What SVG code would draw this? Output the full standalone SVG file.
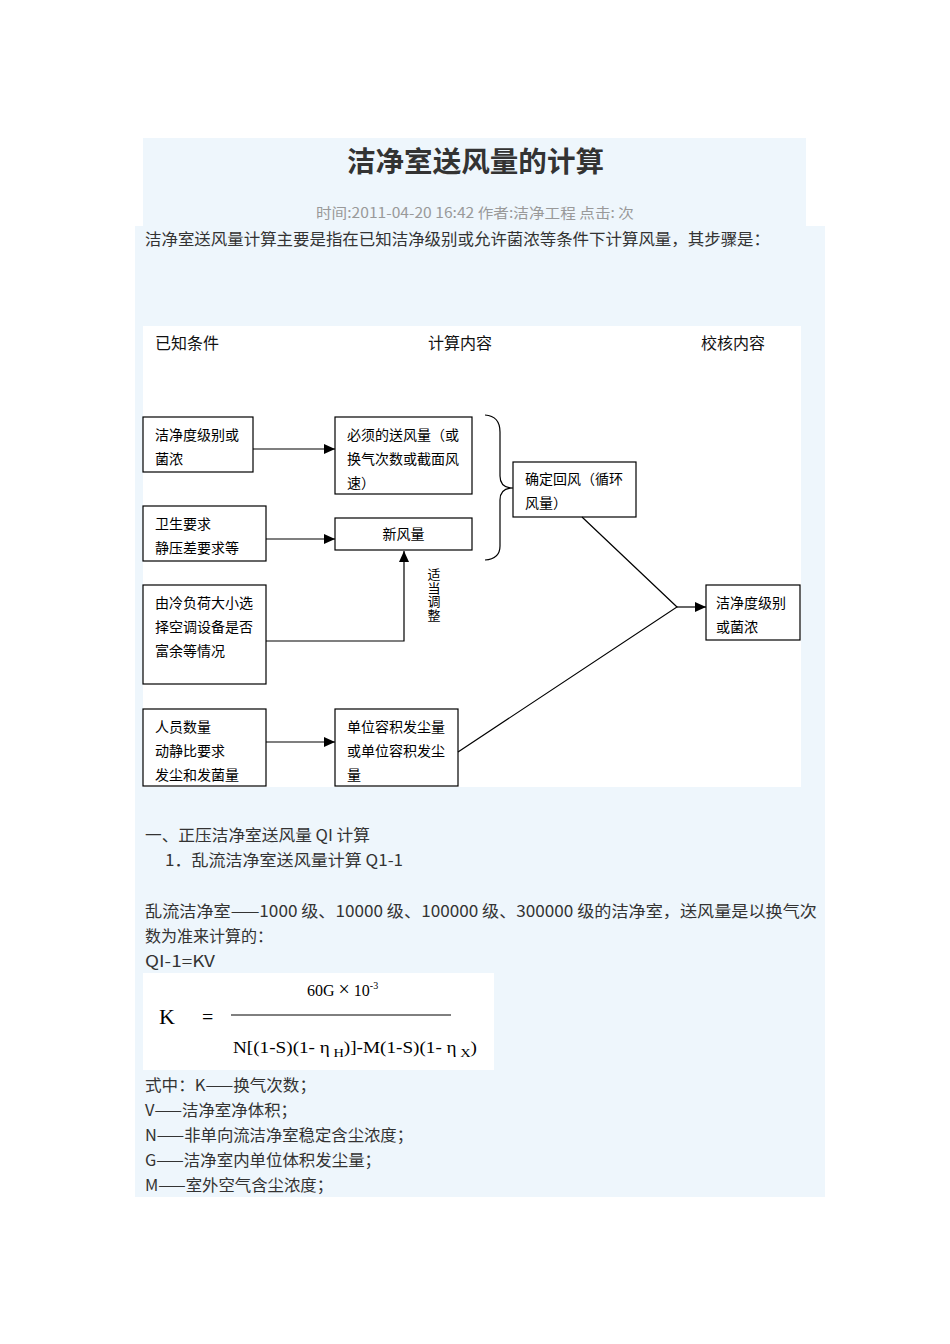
<svg xmlns="http://www.w3.org/2000/svg" width="950" height="1344" viewBox="0 0 950 1344">
<defs>
<style>
.bg{fill:#eef6fc}
.box{fill:#fff;stroke:#000;stroke-width:1.2}
.t{font-family:"Noto Sans CJK SC","Noto Sans",sans-serif;font-size:14px;fill:#000}
.h{font-family:"Noto Sans CJK SC","Noto Sans",sans-serif;font-size:16px;fill:#111}
.p{font-family:"Noto Sans CJK SC","DejaVu Sans",sans-serif;font-size:16px;fill:#333}
.f{font-family:"Liberation Serif","Noto Sans CJK SC",serif;fill:#000}
.ln{stroke:#000;stroke-width:1.2;fill:none}
</style>
<marker id="ah" markerWidth="12" markerHeight="12" refX="11" refY="6" orient="auto" markerUnits="userSpaceOnUse">
<path d="M0,1 L11,6 L0,11 Z" fill="#000"/>
</marker>
</defs>
<rect width="950" height="1344" fill="#fff"/>
<rect class="bg" x="143" y="138" width="663" height="88"/>
<rect class="bg" x="135" y="226" width="690" height="971"/>
<text x="347" y="172" textLength="257" lengthAdjust="spacingAndGlyphs" font-family="Noto Sans CJK SC,sans-serif" font-size="28" font-weight="bold" fill="#333">洁净室送风量的计算</text>
<text x="316" y="218" textLength="318" lengthAdjust="spacingAndGlyphs" font-family="Noto Sans CJK SC,DejaVu Sans,sans-serif" font-size="14" fill="#999">时间:2011-04-20 16:42 作者:洁净工程 点击:  次</text>
<text class="p" x="145" y="245" textLength="625" lengthAdjust="spacingAndGlyphs">洁净室送风量计算主要是指在已知洁净级别或允许菌浓等条件下计算风量，其步骤是：</text>

<rect x="143" y="326" width="658" height="461" fill="#fff"/>
<g id="headers">
<text class="h" x="155" y="349">已知条件</text>
<text class="h" x="428" y="349">计算内容</text>
<text class="h" x="701" y="349">校核内容</text>
</g>
<g id="n1"><rect class="box" x="143" y="417" width="110" height="55"/><text class="t" x="155" y="440">洁净度级别或</text><text class="t" x="155" y="464">菌浓</text></g>
<g id="n2"><rect class="box" x="335" y="417" width="137" height="77"/><text class="t" x="347" y="440">必须的送风量（或</text><text class="t" x="347" y="464">换气次数或截面风</text><text class="t" x="347" y="488">速）</text></g>
<g id="n3"><rect class="box" x="143" y="506" width="123" height="55"/><text class="t" x="155" y="529">卫生要求</text><text class="t" x="155" y="553">静压差要求等</text></g>
<g id="n4"><rect class="box" x="335" y="518" width="137" height="32"/><text class="t" x="403.5" y="539" text-anchor="middle">新风量</text></g>
<g id="n5"><rect class="box" x="513" y="462" width="123" height="55"/><text class="t" x="525" y="484">确定回风（循环</text><text class="t" x="525" y="508">风量）</text></g>
<g id="n6"><rect class="box" x="706" y="585" width="94" height="55"/><text class="t" x="716" y="608">洁净度级别</text><text class="t" x="716" y="632">或菌浓</text></g>
<g id="n7"><rect class="box" x="143" y="585" width="123" height="99"/><text class="t" x="155" y="608">由冷负荷大小选</text><text class="t" x="155" y="632">择空调设备是否</text><text class="t" x="155" y="656">富余等情况</text></g>
<g id="n8"><rect class="box" x="143" y="709" width="123" height="77"/><text class="t" x="155" y="732">人员数量</text><text class="t" x="155" y="756">动静比要求</text><text class="t" x="155" y="780">发尘和发菌量</text></g>
<g id="n9"><rect class="box" x="335" y="709" width="123" height="77"/><text class="t" x="347" y="732">单位容积发尘量</text><text class="t" x="347" y="756">或单位容积发尘</text><text class="t" x="347" y="780">量</text></g>
<g id="connectors">
<line class="ln" x1="253" y1="449" x2="335" y2="449" marker-end="url(#ah)"/>
<line class="ln" x1="266" y1="539" x2="335" y2="539" marker-end="url(#ah)"/>
<polyline class="ln" points="266,641 404,641 404,551" marker-end="url(#ah)"/>
<line class="ln" x1="266" y1="742" x2="335" y2="742" marker-end="url(#ah)"/>
<path class="ln" d="M485,415 Q500,416 500,432 L500,476 Q500,488 513,488 Q500,488 500,500 L500,546 Q500,559 485,560"/>
<polyline class="ln" points="582,517 677,607 458,752" stroke-width="1"/>
<line class="ln" x1="677" y1="607" x2="706" y2="607" marker-end="url(#ah)"/>
</g>
<g id="label-adjust">
<text x="434" y="568" writing-mode="tb" glyph-orientation-vertical="0" font-family="Noto Sans CJK SC,sans-serif" font-size="13" letter-spacing="0.5" fill="#000">适当调整</text>
</g>

<text class="p" x="145" y="841" textLength="225" lengthAdjust="spacingAndGlyphs">一、正压洁净室送风量 QI 计算</text>
<text class="p" x="165" y="866" textLength="238" lengthAdjust="spacingAndGlyphs">1．乱流洁净室送风量计算 Q1-1</text>
<text class="p" x="145" y="917" textLength="672" lengthAdjust="spacingAndGlyphs">乱流洁净室——1000 级、10000 级、100000 级、300000 级的洁净室，送风量是以换气次</text>
<text class="p" x="145" y="942">数为准来计算的：</text>
<text class="p" x="145" y="967" textLength="70" lengthAdjust="spacingAndGlyphs">QI-1=KV</text>

<g id="formula">
<rect x="143" y="973" width="351" height="97" fill="#fff"/>
<text class="f" x="159" y="1024" font-size="22">K</text>
<text class="f" x="202" y="1024" font-size="20">=</text>
<line x1="231" y1="1015" x2="451" y2="1015" stroke="#000" stroke-width="1"/>
<text class="f" x="307" y="996" font-size="16">60G <tspan font-size="20">×</tspan> 10<tspan dy="-7" font-size="10">-3</tspan></text>
<text class="f" x="233" y="1053" font-size="16" textLength="244" lengthAdjust="spacingAndGlyphs">N[(1-S)(1- η<tspan dy="4" font-size="12"> H</tspan><tspan dy="-4">)]-M(1-S)(1- η</tspan><tspan dy="4" font-size="12"> X</tspan><tspan dy="-4">)</tspan></text>
</g>
<text class="p" x="145" y="1091" textLength="171" lengthAdjust="spacingAndGlyphs">式中：K——换气次数；</text>
<text class="p" x="145" y="1116" textLength="152" lengthAdjust="spacingAndGlyphs">V——洁净室净体积；</text>
<text class="p" x="145" y="1141" textLength="268" lengthAdjust="spacingAndGlyphs">N——非单向流洁净室稳定含尘浓度；</text>
<text class="p" x="145" y="1166" textLength="236" lengthAdjust="spacingAndGlyphs">G——洁净室内单位体积发尘量；</text>
<text class="p" x="145" y="1191" textLength="188" lengthAdjust="spacingAndGlyphs">M——室外空气含尘浓度；</text>
</svg>
